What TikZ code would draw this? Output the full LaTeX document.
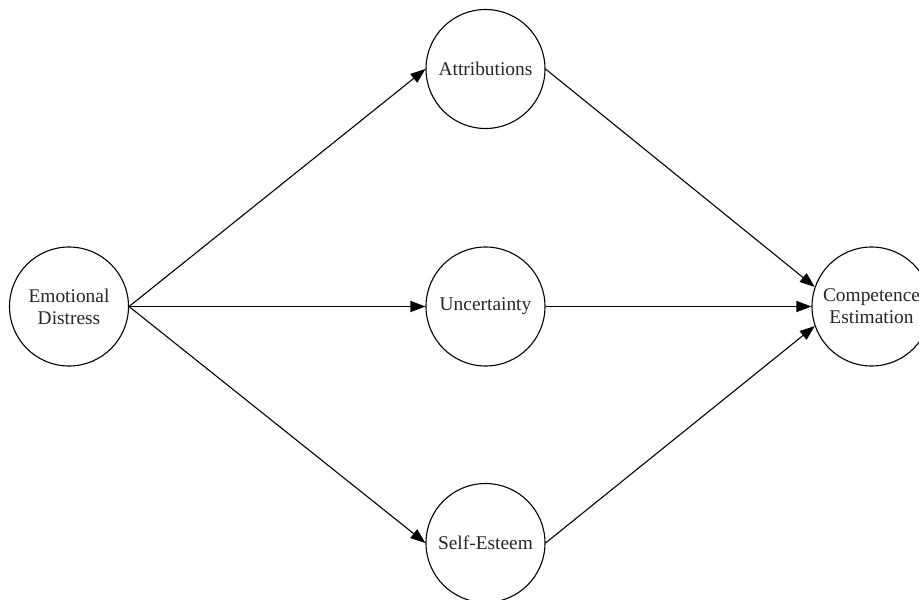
\documentclass[tikz,border=0pt]{standalone}
\usepackage{fontspec}
\setmainfont{Liberation Serif}
\usetikzlibrary{arrows.meta}
\begin{document}
\begin{tikzpicture}[x=1pt,y=-1pt,
  var/.style={circle,draw,line width=1.1pt,minimum size=119pt,inner sep=0pt,align=center,
    font=\fontsize{19.4}{22}\selectfont,text=black!85},
  conn/.style={line width=1.1pt,-{Triangle[length=15pt,width=11pt]}}]
\useasboundingbox (0,0) rectangle (919,600);
\node[var] (ed) at (69,306.5) {Emotional\\Distress};
\node[var] (at) at (485.5,69) {Attributions};
\node[var] (un) at (485.5,306.5) {Uncertainty};
\node[var] (se) at (485.5,543) {Self-Esteem};
\node[var] (ce) at (871.5,306.5) {Competence\\Estimation};
\draw[conn] (ed.east) -- (at.west);
\draw[conn] (ed.east) -- (un.west);
\draw[conn] (ed.east) -- (se.west);
\draw[conn] (at.east) -- (ce.161);
\draw[conn] (un.east) -- (ce.west);
\draw[conn] (se.east) -- (ce.199);
\end{tikzpicture}
\end{document}
